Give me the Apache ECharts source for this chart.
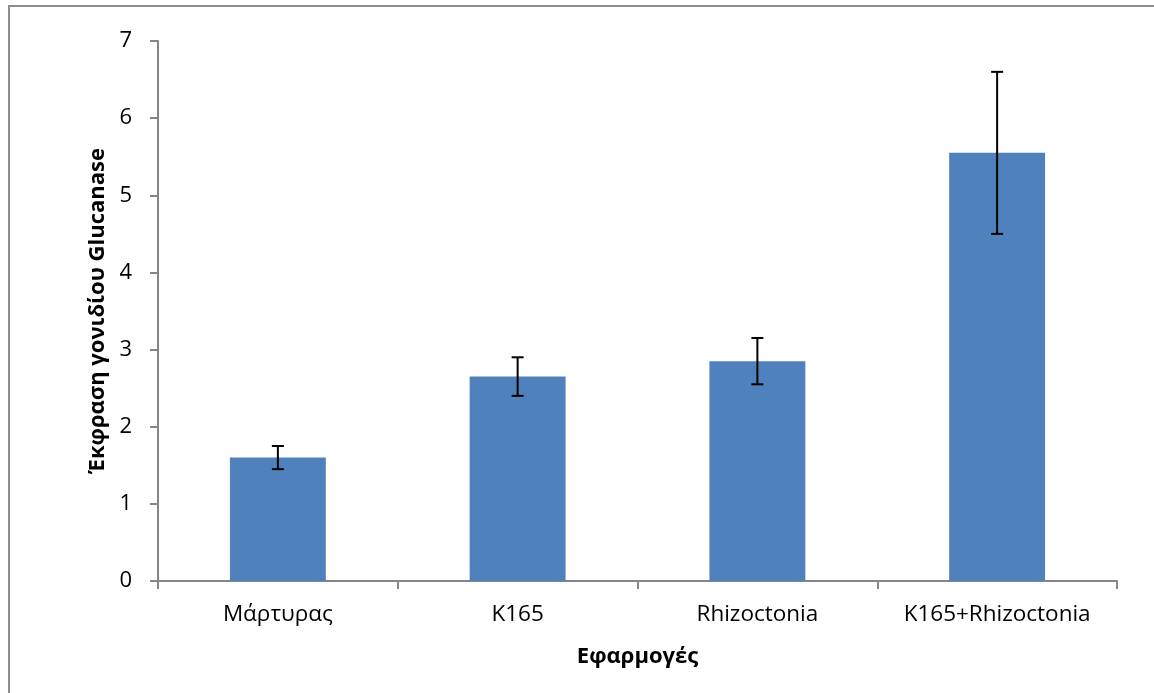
<!DOCTYPE html>
<html>
<head>
<meta charset="utf-8">
<script src="https://cdn.jsdelivr.net/npm/echarts@6/dist/echarts.min.js"></script>
<style>
html,body{margin:0;padding:0;background:#fff;}
#frame{position:absolute;left:8px;top:5px;width:1160px;height:700px;border:2px solid #8c8c8c;box-sizing:border-box;}
#chart{position:absolute;left:0;top:0;width:1154px;height:693px;}
</style>
</head>
<body>
<div id="frame"></div>
<div id="chart"></div>
<script>
var categories = ['Μάρτυρας', 'K165', 'Rhizoctonia', 'K165+Rhizoctonia'];
var values = [1.6, 2.65, 2.85, 5.55];
var errors = [0.15, 0.25, 0.3, 1.05];
var yTicks = [0, 1, 2, 3, 4, 5, 6, 7];

var FONT = '"Open Sans", "Noto Sans", sans-serif';
var chart = echarts.init(document.getElementById('chart'), null, {renderer: 'canvas'});
var errData = categories.map(function (c, i) { return [i, values[i] - errors[i], values[i] + errors[i]]; });

chart.setOption({
  animation: false,
  backgroundColor: 'transparent',
  grid: {left: 158, right: 37, top: 41, bottom: 112},
  xAxis: {
    type: 'category',
    data: categories,
    boundaryGap: true,
    name: 'Εφαρμογές',
    nameLocation: 'middle',
    nameGap: 65,
    nameTextStyle: {fontFamily: FONT, fontWeight: 'bold', fontSize: 22, color: '#000'},
    axisLine: {lineStyle: {color: '#868686', width: 2}},
    axisTick: {show: true, interval: 0, length: 8, lineStyle: {color: '#868686', width: 2}, alignWithLabel: false},
    axisLabel: {interval: 0, hideOverlap: false, fontFamily: FONT, fontSize: 22.5, color: '#000', margin: 22}
  },
  yAxis: {
    type: 'value',
    min: yTicks[0],
    max: yTicks[yTicks.length - 1],
    interval: 1,
    name: 'Έκφραση γονιδίου Glucanase',
    nameLocation: 'middle',
    nameGap: 49,
    nameRotate: 90,
    nameTextStyle: {fontFamily: FONT, fontWeight: 'bold', fontSize: 22, color: '#000'},
    axisLine: {show: true, lineStyle: {color: '#868686', width: 2}},
    axisTick: {show: true, length: 8, lineStyle: {color: '#868686', width: 2}},
    axisLabel: {fontFamily: FONT, fontSize: 22, color: '#000', margin: 26},
    splitLine: {show: false}
  },
  series: [
    {
      type: 'bar',
      data: values,
      barWidth: '40%',
      itemStyle: {color: '#4f81bd'}
    },
    {
      type: 'custom',
      data: errData,
      z: 10,
      renderItem: function (params, api) {
        var x = api.value(0);
        var lo = api.coord([x, api.value(1)]);
        var hi = api.coord([x, api.value(2)]);
        var hw = 6;
        var st = {stroke: '#000', lineWidth: 2};
        return {
          type: 'group',
          children: [
            {type: 'line', shape: {x1: hi[0], y1: hi[1], x2: lo[0], y2: lo[1]}, style: st},
            {type: 'line', shape: {x1: hi[0] - hw, y1: hi[1], x2: hi[0] + hw, y2: hi[1]}, style: st},
            {type: 'line', shape: {x1: lo[0] - hw, y1: lo[1], x2: lo[0] + hw, y2: lo[1]}, style: st}
          ]
        };
      }
    }
  ]
});
</script>
</body>
</html>
